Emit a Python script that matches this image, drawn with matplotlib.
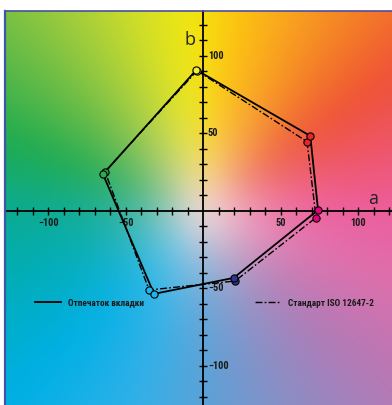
import numpy as np
import matplotlib
matplotlib.use('Agg')
import matplotlib.pyplot as plt
from matplotlib import font_manager as fm
from matplotlib.colors import to_rgb

# ---------------- data ----------------
PATCH_NAMES = ['Y', 'R', 'M', 'B', 'C', 'G']
PATCH_COLORS = ['#f4ee3a', '#e8252b', '#e5007d', '#2d3590', '#1eb4ea', '#2fa84f']
PRINT_A = [-4.5, 69.0, 74.0, 19.6, -31.8, -64.7]
PRINT_B = [91.0, 48.4, 0.6, -43.2, -53.5, 23.7]
ISO_A = [-4.0, 66.9, 72.7, 20.5, -35.0, -63.4]
ISO_B = [90.5, 44.7, -4.3, -45.2, -51.0, 25.4]
SERIES_LABELS = ['Отпечаток вкладки', 'Стандарт ISO 12647-2']
TICK_VALUES = [v for v in range(-120, 121, 10) if v != 0]
LABELLED_TICKS = [-100, -50, 50, 100]
XLIM = (-127.9, 121.7)
YLIM = (-125.2, 129.0)

# background hue anchors (angle in a-b plane, colour)
HUE_ANGLES = [0, 20, 36, 50, 65, 80, 93, 108, 124, 140, 160, 180, 200, 225, 250, 270, 295, 315, 340, 360]
HUE_COLORS = ['#ee5d9e', '#ee5566', '#ef5236', '#f47a28', '#f9a21f', '#fdc30f', '#f4e80f',
              '#d2df26', '#a2cd3c', '#68bc46', '#1fab4f', '#0aab93', '#00adb8', '#00b0e6',
              '#30b0e8', '#5aa2d8', '#8d8dc4', '#b27ab6', '#de6fac', '#ee5d9e']
CENTER_COLOR = '#f3dcdc'

# ---------------- fonts ----------------
names = {f.name for f in fm.fontManager.ttflist}
NARROW = None
for cand in ['Liberation Sans Narrow', 'Roboto Condensed', 'Open Sans Condensed']:
    if cand in names:
        NARROW = cand
        break
if NARROW is None:
    NARROW_KW = dict(family='DejaVu Sans', fontstretch='condensed')
else:
    NARROW_KW = dict(family=NARROW)

fig = plt.figure(figsize=(3.92, 4.05), dpi=100, facecolor='white')
ax = fig.add_axes([5 / 392, 0, 387 / 392, 394 / 405])
ax.set_xlim(*XLIM)
ax.set_ylim(*YLIM)

# ---------------- background gradient ----------------
nx, ny = 260, 260
pad = 40
gx = np.linspace(XLIM[0] - pad, XLIM[1] + pad, nx + 2 * 40)
gy = np.linspace(YLIM[1] + pad, YLIM[0] - pad, ny + 2 * 40)
A, B = np.meshgrid(gx, gy)
ang = np.degrees(np.arctan2(B, A)) % 360
r = np.hypot(A, B)
hc = np.array([to_rgb(c) for c in HUE_COLORS])
img = np.zeros(A.shape + (3,))
for k in range(3):
    img[..., k] = np.interp(ang, HUE_ANGLES, hc[:, k])
s = 1 - np.exp(-(r / 37.0) ** 1.4)
cc = np.array(to_rgb(CENTER_COLOR))
img = cc * (1 - s[..., None]) + img * s[..., None]
# soft blur
sig = 9.0
kx = np.arange(-30, 31)
ker = np.exp(-0.5 * (kx / sig) ** 2)
ker /= ker.sum()
for k in range(3):
    ch = img[..., k]
    ch = np.apply_along_axis(lambda v: np.convolve(np.pad(v, 30, mode='edge'), ker, mode='valid'), 1, ch)
    ch = np.apply_along_axis(lambda v: np.convolve(np.pad(v, 30, mode='edge'), ker, mode='valid'), 0, ch)
    img[..., k] = ch
img = np.clip(img[40:-40, 40:-40], 0, 1)
ax.imshow(img, extent=[XLIM[0], XLIM[1], YLIM[0], YLIM[1]], aspect='auto',
          interpolation='bilinear', zorder=0)

# ---------------- axes styling ----------------
ax.spines['right'].set_visible(False)
ax.spines['top'].set_color('#4b4f9c')
ax.spines['top'].set_linewidth(1.2)
ax.spines['left'].set_position(('data', 0))
ax.spines['bottom'].set_position(('data', 0))
for side in ['left', 'bottom']:
    ax.spines[side].set_color('black')
    ax.spines[side].set_linewidth(1.3)
ax.plot([0, 0], [0, 1], transform=ax.transAxes, color='#3d57a5', lw=1.6,
        clip_on=False, zorder=5)
ax.set_xticks(TICK_VALUES)
ax.set_yticks(TICK_VALUES)
ax.set_xticklabels([])
ax.set_yticklabels([])
ax.tick_params(axis='both', direction='inout', length=6, width=1, color='black',
               top=False, right=False)

lab_kw = dict(fontsize=7.5, fontweight='bold', color='#1a1a1a', **NARROW_KW)
for v in LABELLED_TICKS:
    ax.text(v, -7.7, str(v).replace('-', '\u2212'), ha='center', va='center', zorder=1.5, **lab_kw)
    ax.text(3.0, v, str(v).replace('-', '\u2212'), ha='left', va='center', zorder=1.5, **lab_kw)

ax.text(-8.3, 110, 'b', fontsize=13, color='#222222', ha='center', va='center', family='Open Sans')
ax.text(109.5, 7.6, 'a', fontsize=13, color='#222222', ha='center', va='center', family='Open Sans')

# ---------------- data polygons ----------------
iso_line, = ax.plot(ISO_A + ISO_A[:1], ISO_B + ISO_B[:1], color='black', lw=1.0,
                    dashes=[5, 1.6, 1.2, 1.6], label=SERIES_LABELS[1], zorder=3)
prn_line, = ax.plot(PRINT_A + PRINT_A[:1], PRINT_B + PRINT_B[:1], color='black', lw=1.3,
                    label=SERIES_LABELS[0], zorder=3.5)
for a, b, c in zip(ISO_A, ISO_B, PATCH_COLORS):
    ax.plot(a, b, 'o', ms=5.2, mfc=c, mec='black', mew=0.8, zorder=4)
for a, b, c in zip(PRINT_A, PRINT_B, PATCH_COLORS):
    ax.plot(a, b, 'o', ms=5.2, mfc=c, mec='black', mew=0.8, zorder=4.5)

# ---------------- legends ----------------
prop_kw = {('stretch' if k == 'fontstretch' else k): v for k, v in NARROW_KW.items()}
leg_kw = dict(frameon=False, handlelength=2.8, handletextpad=0.7, borderpad=0,
              borderaxespad=0, loc='center left',
              prop=fm.FontProperties(size=6.7, weight='bold', **prop_kw))
leg1 = ax.legend(handles=[prn_line], bbox_to_anchor=((35 - 5) / 387, (405 - 303) / 394), **leg_kw)
for t in leg1.get_texts():
    t.set_color('#1a1a1a')
ax.add_artist(leg1)
leg2 = ax.legend(handles=[iso_line], bbox_to_anchor=((255 - 5) / 387, (405 - 303) / 394), **leg_kw)
for t in leg2.get_texts():
    t.set_color('#1a1a1a')

fig.savefig('out.png', dpi=100, facecolor='white')
